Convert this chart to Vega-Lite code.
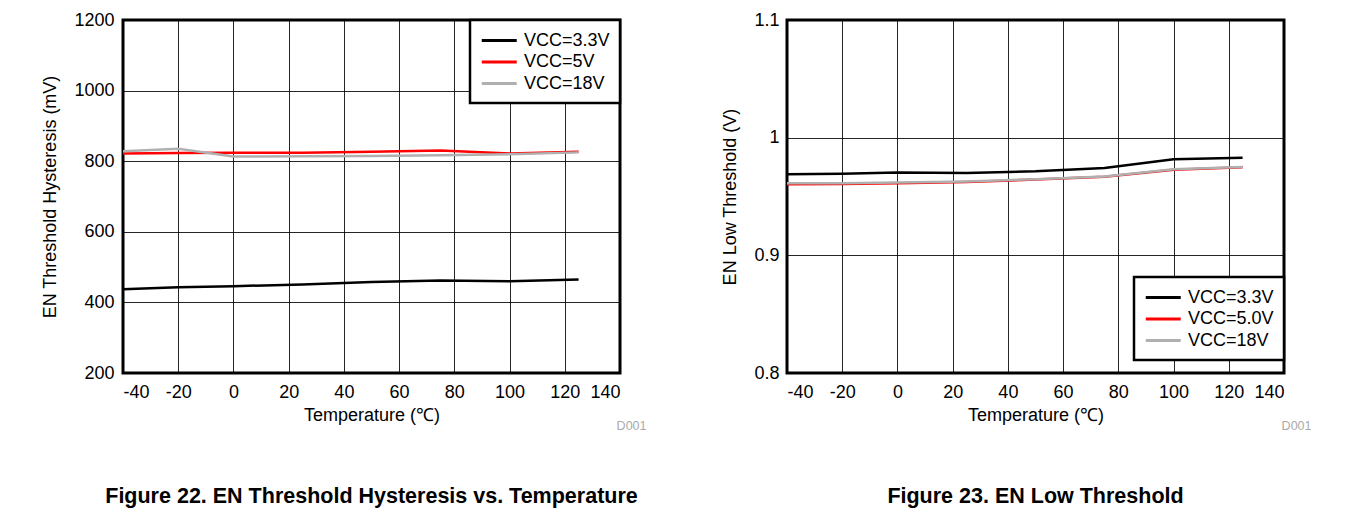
{
  "$schema": "https://vega.github.io/schema/vega-lite/v6.json",
  "padding": {"left": 40, "top": 9, "right": 5, "bottom": 0},
  "background": "white",
  "bounds": "flush",
  "spacing": 167,
  "datasets": {
    "hyst": [
      {"T": -40, "VCC": "VCC=3.3V", "v": 437}, {"T": -20, "VCC": "VCC=3.3V", "v": 443}, {"T": 0, "VCC": "VCC=3.3V", "v": 446}, {"T": 25, "VCC": "VCC=3.3V", "v": 451}, {"T": 50, "VCC": "VCC=3.3V", "v": 458}, {"T": 75, "VCC": "VCC=3.3V", "v": 462}, {"T": 100, "VCC": "VCC=3.3V", "v": 460}, {"T": 125, "VCC": "VCC=3.3V", "v": 465},
      {"T": -40, "VCC": "VCC=5V", "v": 822}, {"T": -20, "VCC": "VCC=5V", "v": 823}, {"T": 0, "VCC": "VCC=5V", "v": 824}, {"T": 25, "VCC": "VCC=5V", "v": 824}, {"T": 50, "VCC": "VCC=5V", "v": 827}, {"T": 75, "VCC": "VCC=5V", "v": 830}, {"T": 100, "VCC": "VCC=5V", "v": 822}, {"T": 125, "VCC": "VCC=5V", "v": 827},
      {"T": -40, "VCC": "VCC=18V", "v": 828}, {"T": -20, "VCC": "VCC=18V", "v": 835}, {"T": 0, "VCC": "VCC=18V", "v": 813}, {"T": 25, "VCC": "VCC=18V", "v": 814}, {"T": 50, "VCC": "VCC=18V", "v": 815}, {"T": 75, "VCC": "VCC=18V", "v": 817}, {"T": 100, "VCC": "VCC=18V", "v": 820}, {"T": 125, "VCC": "VCC=18V", "v": 825}
    ],
    "low": [
      {"T": -40, "VCC": "VCC=3.3V", "v": 0.969}, {"T": -20, "VCC": "VCC=3.3V", "v": 0.9694}, {"T": 0, "VCC": "VCC=3.3V", "v": 0.9703}, {"T": 25, "VCC": "VCC=3.3V", "v": 0.970}, {"T": 50, "VCC": "VCC=3.3V", "v": 0.9714}, {"T": 75, "VCC": "VCC=3.3V", "v": 0.9742}, {"T": 100, "VCC": "VCC=3.3V", "v": 0.9816}, {"T": 125, "VCC": "VCC=3.3V", "v": 0.983},
      {"T": -40, "VCC": "VCC=5.0V", "v": 0.9604}, {"T": -20, "VCC": "VCC=5.0V", "v": 0.9606}, {"T": 0, "VCC": "VCC=5.0V", "v": 0.9612}, {"T": 25, "VCC": "VCC=5.0V", "v": 0.9624}, {"T": 50, "VCC": "VCC=5.0V", "v": 0.9644}, {"T": 75, "VCC": "VCC=5.0V", "v": 0.9667}, {"T": 100, "VCC": "VCC=5.0V", "v": 0.9728}, {"T": 125, "VCC": "VCC=5.0V", "v": 0.9748},
      {"T": -40, "VCC": "VCC=18V", "v": 0.9612}, {"T": -20, "VCC": "VCC=18V", "v": 0.9613}, {"T": 0, "VCC": "VCC=18V", "v": 0.9618}, {"T": 25, "VCC": "VCC=18V", "v": 0.9628}, {"T": 50, "VCC": "VCC=18V", "v": 0.9647}, {"T": 75, "VCC": "VCC=18V", "v": 0.9669}, {"T": 100, "VCC": "VCC=18V", "v": 0.9731}, {"T": 125, "VCC": "VCC=18V", "v": 0.975}
    ],
    "tag": [{"T": 140}]
  },
  "config": {
    "font": "Liberation Sans",
    "view": {"stroke": "#000", "strokeWidth": 3},
    "axis": {
      "labelFont": "Liberation Sans", "labelFontSize": 18, "labelColor": "#000",
      "titleFont": "Liberation Sans", "titleFontSize": 18, "titleFontWeight": "normal", "titleColor": "#000",
      "domain": false, "ticks": false, "gridColor": "#000", "gridWidth": 1, "gridOpacity": 0.85
    },
    "legend": {
      "labelFont": "Liberation Sans", "labelFontSize": 18, "labelColor": "#000",
      "padding": 10, "strokeColor": "#000", "strokeWidth": 2.5, "fillColor": "#fff",
      "symbolType": "M-1,0L3,0", "symbolSize": 306, "symbolStrokeWidth": 3, "labelOffset": 23, "rowPadding": 1.5
    },
    "title": {"font": "Liberation Sans", "fontSize": 21.5, "fontWeight": "bold", "color": "#000"}
  },
  "hconcat": [
    {
      "width": 497, "height": 353,
      "title": {"text": "Figure 22. EN Threshold Hysteresis vs. Temperature", "orient": "bottom", "anchor": "middle", "frame": "group", "offset": 54},
      "layer": [
        {
          "data": {"name": "hyst"},
          "mark": {"type": "line", "strokeWidth": 2.5},
          "encoding": {
            "x": {"field": "T", "type": "quantitative", "scale": {"domain": [-40, 140], "nice": false},
                  "axis": {"values": [-40, -20, 0, 20, 40, 60, 80, 100, 120, 140], "labelExpr": "datum.value + ''", "title": "Temperature (℃)", "labelPadding": 10, "titlePadding": 5}},
            "y": {"field": "v", "type": "quantitative", "scale": {"domain": [200, 1200], "nice": false, "zero": false},
                  "axis": {"values": [200, 400, 600, 800, 1000, 1200], "labelExpr": "datum.value + ''", "title": "EN Threshold Hysteresis (mV)", "labelPadding": 9, "titlePadding": 14}},
            "color": {"field": "VCC", "type": "nominal",
                      "scale": {"domain": ["VCC=3.3V", "VCC=5V", "VCC=18V"], "range": ["#000000", "#ff0000", "#b0b0b0"]},
                      "legend": {"title": null, "orient": "none", "legendX": 347, "legendY": 0}}
          }
        },
        {
          "data": {"name": "tag"},
          "mark": {"type": "point", "opacity": 0},
          "encoding": {
            "x": {"field": "T", "type": "quantitative",
                  "axis": {"orient": "bottom", "title": "D001", "labels": false, "grid": false, "titleColor": "#aaaaaa", "titleFontSize": 12.5, "titleAlign": "right", "titleBaseline": "middle", "titleX": 523, "titleY": 52}}
          }
        }
      ],
      "resolve": {"axis": {"x": "independent"}}
    },
    {
      "width": 497, "height": 353,
      "title": {"text": "Figure 23. EN Low Threshold", "orient": "bottom", "anchor": "middle", "frame": "group", "offset": 54},
      "layer": [
        {
          "data": {"name": "low"},
          "mark": {"type": "line", "strokeWidth": 2.5},
          "encoding": {
            "x": {"field": "T", "type": "quantitative", "scale": {"domain": [-40, 140], "nice": false},
                  "axis": {"values": [-40, -20, 0, 20, 40, 60, 80, 100, 120, 140], "labelExpr": "datum.value + ''", "title": "Temperature (℃)", "labelPadding": 10, "titlePadding": 5}},
            "y": {"field": "v", "type": "quantitative", "scale": {"domain": [0.8, 1.1], "nice": false, "zero": false},
                  "axis": {"values": [0.8, 0.9, 1, 1.1], "labelExpr": "datum.value + ''", "title": "EN Low Threshold (V)", "labelPadding": 8, "titlePadding": 14}},
            "color": {"field": "VCC", "type": "nominal",
                      "scale": {"domain": ["VCC=3.3V", "VCC=5.0V", "VCC=18V"], "range": ["#000000", "#ff0000", "#b0b0b0"]},
                      "legend": {"title": null, "orient": "none", "legendX": 347, "legendY": 257}}
          }
        },
        {
          "data": {"name": "tag"},
          "mark": {"type": "point", "opacity": 0},
          "encoding": {
            "x": {"field": "T", "type": "quantitative",
                  "axis": {"orient": "bottom", "title": "D001", "labels": false, "grid": false, "titleColor": "#aaaaaa", "titleFontSize": 12.5, "titleAlign": "right", "titleBaseline": "middle", "titleX": 524, "titleY": 52}}
          }
        }
      ],
      "resolve": {"axis": {"x": "independent"}}
    }
  ],
  "resolve": {"scale": {"color": "independent"}}
}
